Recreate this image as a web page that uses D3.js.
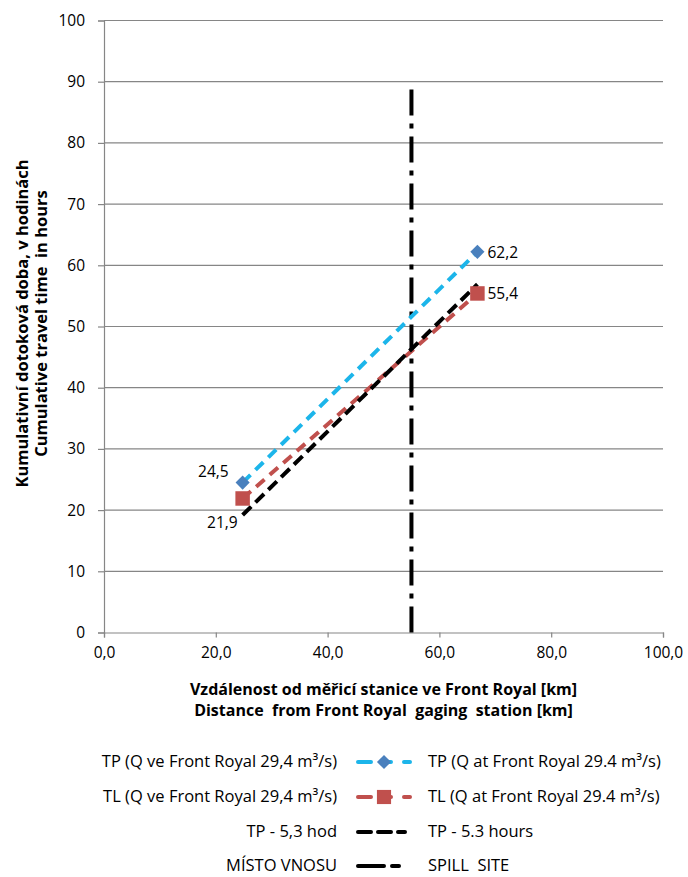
<!DOCTYPE html>
<html>
<head>
<meta charset="utf-8">
<script src="https://cdn.jsdelivr.net/npm/d3@7/dist/d3.min.js"></script>
<style>
  body { margin: 0; background: #fff; }
  text { font-family: "Open Sans", Lato, sans-serif; fill: #000; white-space: pre; }
</style>
</head>
<body>
<svg id="chart" width="688" height="877"></svg>
<script>
// distances along the river (km) for the two profile points
const distances = [24.8, 66.8];
// cumulative travel times (hours)
const tpTimes = [24.5, 62.2];
const tlTimes = [21.9, 55.4];
const tpShiftTimes = [19.2, 56.9];
// spill site vertical marker
const spillDistance = [55, 55];
const spillTimes = [0, 90];

const xTicks = [0, 20, 40, 60, 80, 100];
const yTicks = [0, 10, 20, 30, 40, 50, 60, 70, 80, 90, 100];

const legendCz = ["TP (Q ve Front Royal 29,4 m³/s)", "TL (Q ve Front Royal 29,4 m³/s)", "TP - 5,3 hod", "MÍSTO VNOSU"];
const legendEn = ["TP (Q at Front Royal 29.4 m³/s)", "TL (Q at Front Royal 29.4 m³/s)", "TP - 5.3 hours", "SPILL  SITE"];

const color = {
	tpLine: "#1cb5ea",
	tpMarker: "#4a80bd",
	tl: "#c0504d",
	black: "#000",
	grid: "#868686"
};

const svg = d3.select("#chart");
const x = d3.scaleLinear().domain([0, 100]).range([104, 663]);
const y = d3.scaleLinear().domain([0, 100]).range([632.5, 20.5]);

// gridlines
svg.append("g")
	.selectAll("line")
	.data(yTicks.filter(d => d > 0))
	.enter().append("line")
	.attr("x1", x(0)).attr("x2", x(100))
	.attr("y1", d => y(d)).attr("y2", d => y(d))
	.attr("stroke", color.grid).attr("stroke-width", 1.2);

// axes
const xAxis = svg.append("g")
	.attr("transform", `translate(0,${y(0)})`)
	.call(d3.axisBottom(x).tickValues(xTicks).tickSize(5).tickPadding(9)
		.tickFormat(d => d3.format(".1f")(d).replace(".", ",")));
const yAxis = svg.append("g")
	.attr("transform", `translate(${x(0)},0)`)
	.call(d3.axisLeft(y).tickValues(yTicks).tickSize(6).tickPadding(13));
[xAxis, yAxis].forEach(a => {
	a.select(".domain").attr("stroke", color.grid).attr("stroke-width", 1.2);
	a.selectAll(".tick line").attr("stroke", color.grid).attr("stroke-width", 1.2);
	a.selectAll(".tick text").style("font-size", "15.5px").attr("fill", "#000");
});

// axis titles
const yTitle = svg.append("text")
	.attr("transform", `translate(0,${(y(0) + y(100)) / 2 - 3}) rotate(-90)`)
	.attr("text-anchor", "middle")
	.style("font-weight", "bold").style("font-size", "16.5px");
yTitle.append("tspan").attr("x", 0).attr("y", 28).text("Kumulativní dotoková doba, v hodinách");
yTitle.append("tspan").attr("x", 0).attr("y", 47).text("Cumulative travel time  in hours");

const xTitle = svg.append("text")
	.attr("text-anchor", "middle")
	.style("font-weight", "bold").style("font-size", "16px");
xTitle.append("tspan").attr("x", (x(0) + x(100)) / 2).attr("y", 695).text("Vzdálenost od měřicí stanice ve Front Royal [km]");
xTitle.append("tspan").attr("x", (x(0) + x(100)) / 2).attr("y", 716).text("Distance  from Front Royal  gaging  station [km]");

const line = d3.line().x(d => x(d[0])).y(d => y(d[1]));

// spill site
svg.append("path")
	.datum(d3.zip(spillDistance, spillTimes))
	.attr("d", line)
	.attr("fill", "none").attr("stroke", color.black).attr("stroke-width", 4)
	.attr("stroke-dasharray", "26,8,5,8");

// series
const series = [
	{ values: tpTimes, stroke: color.tpLine, dash: "11,7", marker: "diamond", fill: color.tpMarker },
	{ values: tlTimes, stroke: color.tl, dash: "11,7", marker: "square", fill: color.tl },
	{ values: tpShiftTimes, stroke: color.black, dash: "12,6", marker: null }
];

series.forEach(s => {
	svg.append("path")
		.datum(d3.zip(distances, s.values))
		.attr("d", line)
		.attr("fill", "none").attr("stroke", s.stroke).attr("stroke-width", 4)
		.attr("stroke-dasharray", s.dash);
});

series.filter(s => s.marker).forEach(s => {
	const sym = s.marker == "diamond"
		? d3.symbol().type(d3.symbolSquare).size(100)
		: d3.symbol().type(d3.symbolSquare).size(210);
	svg.append("g").selectAll("path")
		.data(d3.zip(distances, s.values))
		.enter().append("path")
		.attr("d", sym)
		.attr("transform", d => `translate(${x(d[0])},${y(d[1])})` + (s.marker == "diamond" ? " rotate(45)" : ""))
		.attr("fill", s.fill);
});

// data labels
const labelOffsets = {
	tp: [[-14, -6, "end"], [10, 6, "start"]],
	tl: [[-5, 30, "end"], [10, 6, "start"]]
};
[[tpTimes, labelOffsets.tp], [tlTimes, labelOffsets.tl]].forEach(([vals, offs]) => {
	vals.forEach((v, i) => {
		svg.append("text")
			.attr("x", x(distances[i]) + offs[i][0])
			.attr("y", y(v) + offs[i][1])
			.attr("text-anchor", offs[i][2])
			.style("font-size", "15.5px")
			.text(d3.format(".1f")(v).replace(".", ","));
	});
});

// legend
const legendY = [762, 797, 832, 866];
const lg = svg.append("g");
legendCz.forEach((t, i) => {
	lg.append("text").attr("x", 337).attr("y", legendY[i] + 5)
		.attr("text-anchor", "end").style("font-size", "16.5px").text(t);
	lg.append("text").attr("x", 428).attr("y", legendY[i] + 5)
		.style("font-size", "16.5px").text(legendEn[i]);
});
const legendStyles = [
	{ stroke: color.tpLine, dash: "13,13,7", marker: "diamond", fill: color.tpMarker },
	{ stroke: color.tl, dash: "13,13,7", marker: "square", fill: color.tl },
	{ stroke: color.black, dash: "13,7,13,7,7", marker: null },
	{ stroke: color.black, dash: "26,8,7", marker: null }
];
legendStyles.forEach((s, i) => {
	lg.append("line").attr("x1", 358).attr("x2", 410)
		.attr("y1", legendY[i]).attr("y2", legendY[i])
		.attr("stroke", s.stroke).attr("stroke-width", 4)
		.attr("stroke-linecap", "round")
		.attr("stroke-dasharray", s.dash);
	if (s.marker) {
		lg.append("path")
			.attr("d", d3.symbol().type(d3.symbolSquare).size(s.marker == "diamond" ? 100 : 200))
			.attr("transform", `translate(384,${legendY[i]})` + (s.marker == "diamond" ? " rotate(45)" : ""))
			.attr("fill", s.fill);
	}
});
</script>
</body>
</html>
